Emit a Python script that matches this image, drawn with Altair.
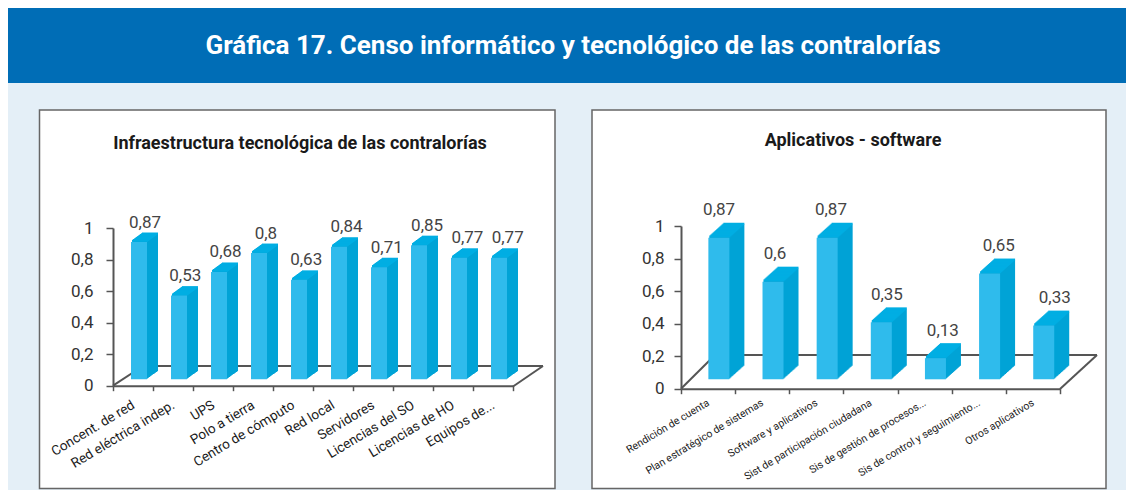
import altair as alt
import pandas as pd

cats_a = ["Concent. de red", "Red eléctrica indep.", "UPS", "Polo a tierra", "Centro de cómputo",
          "Red local", "Servidores", "Licencias del SO", "Licencias de HO", "Equipos de..."]
vals_a = [0.87, 0.53, 0.68, 0.8, 0.63, 0.84, 0.71, 0.85, 0.77, 0.77]
cats_b = ["Rendición de cuenta", "Plan estratégico de sistemas", "Software y aplicativos",
          "Sist de participación ciudadana", "Sis de gestión de procesos...",
          "Sis de control y seguimiento...", "Otros aplicativos"]
vals_b = [0.87, 0.6, 0.87, 0.35, 0.13, 0.65, 0.33]

W, H = 1118, 482
FRONT, SIDE, TOP = "#2fbbec", "#00a3d6", "#00aee3"
AXC = "#555555"
SANS = "Liberation Sans"
NARROW = "Roboto"
one = alt.Data(values=[{"a": 1}])


def deco_rect(x, x2, y, y2, fill, stroke=None, sw=0):
    kw = {"fill": fill}
    if stroke:
        kw.update(stroke=stroke, strokeWidth=sw)
    return alt.Chart(one).mark_rect(**kw).encode(
        x=alt.value(x), x2=alt.value(x2), y=alt.value(y), y2=alt.value(y2))


def seg(x, y, x2, y2, color=AXC, sw=2):
    return alt.Chart(one).mark_rule(color=color, strokeWidth=sw).encode(
        x=alt.value(x), x2=alt.value(x2), y=alt.value(y), y2=alt.value(y2))


def label(txt, x, y, size, color, bold=False, font=NARROW):
    return alt.Chart(one).mark_text(text=txt, fontSize=size, color=color, font=font,
                                    fontWeight="bold" if bold else "normal",
                                    align="center", baseline="alphabetic").encode(
        x=alt.value(x), y=alt.value(y))


def panel(cats, vals, xr, yr, barw, bx, by, depx, depy, lab_dx0, lab_slope, lab_dy,
          cat_size, cat_font, y_pad, x_offset, tick_x, cat_pad):
    df = pd.DataFrame({"c": cats, "v": vals})
    df["t"] = [str(v).replace(".", ",") for v in vals]
    xs = alt.Scale(domain=cats, range=xr, paddingInner=0, paddingOuter=0)
    ys = alt.Scale(domain=[0, 1], range=yr)
    X = alt.X("c:N", scale=xs, axis=None, sort=None)
    Y = alt.Y("v:Q", scale=ys, axis=None)
    base = alt.Chart(df)
    xaxis = alt.Axis(title=None, orient="bottom", offset=x_offset, tickBand="extent", labelAngle=-31,
                     labelAlign="right", labelBaseline="middle", labelFontSize=cat_size, labelFont=cat_font,
                     labelColor="#1a1a1a", labelPadding=cat_pad, tickSize=tick_x, tickColor=AXC, tickWidth=1.5,
                     domainColor=AXC, domainWidth=2, labelOverlap=False, labelLimit=300, grid=False, zindex=1)
    yaxis = alt.Axis(title=None, orient="left", offset=-xr[0], values=[0, 0.2, 0.4, 0.6, 0.8, 1],
                     labelExpr="replace(format(datum.value,'~g'),'.',',')", labelFontSize=17, labelFont=NARROW,
                     labelColor="#333333", labelPadding=y_pad, tickSize=7, tickColor=AXC, tickWidth=1.5,
                     domainColor=AXC, domainWidth=2, grid=False, zindex=1)
    axes = base.mark_bar(opacity=0, width=1).encode(
        x=alt.X("c:N", scale=xs, axis=xaxis, sort=None), y=alt.Y("v:Q", scale=ys, axis=yaxis))
    layers = [axes]
    n = int(round(max(depx, depy)))
    for k in range(n, 0, -1):
        ox = bx + depx * k / n
        oy = by - depy * k / n
        layers.append(base.mark_bar(color=SIDE, width=barw, xOffset=ox, yOffset=oy, y2Offset=oy).encode(
            x=X, y=Y, y2=alt.Y2(datum=0)))
        layers.append(base.mark_tick(color=TOP, size=barw, thickness=2, xOffset=ox, yOffset=oy - 0.5, opacity=1).encode(
            x=X, y=Y))
    layers.append(base.mark_bar(color=FRONT, width=barw, xOffset=bx, yOffset=by, y2Offset=by).encode(
        x=X, y=Y, y2=alt.Y2(datum=0)))
    for i in range(len(cats)):
        layers.append(alt.Chart(df.iloc[[i]]).mark_text(
            font=NARROW, fontSize=17, color="#444444", baseline="alphabetic", align="center",
            dx=lab_dx0 + lab_slope * i, dy=lab_dy).encode(x=X, y=Y, text="t:N"))
    return alt.layer(*layers).resolve_axis(x="independent", y="independent")


left_frame = deco_rect(31.5, 547, 102, 480.5, "white", "#666666", 1.5)
right_frame = deco_rect(584, 1098, 102, 480.5, "white", "#666666", 1.5)
banner = deco_rect(0, W, 0, 75, "#006db6")

deco = [
    deco_rect(0, W, 0, H, "#e4eff7"),
    banner,
    label("Gráfica 17. Censo informático y tecnológico de las contralorías", 565, 46, 26, "white", True),
    left_frame, right_frame,
    label("Infraestructura tecnológica de las contralorías", 292, 141, 18, "#1a1a1a", True),
    label("Aplicativos - software", 845, 138, 18, "#1a1a1a", True),
    # floors
    seg(105, 377.7, 135, 358), seg(135, 358, 535, 358), seg(505, 378.5, 535, 358),
    seg(673, 380.7, 707, 347), seg(707, 347, 1089, 347), seg(1052, 381, 1089, 347),
]

pa = panel(cats_a, vals_a, [105, 505], [377.7, 220], 16, 6, -6.5, 11, 8, 12, 0.3, -21,
           13.5, NARROW, 13, 377.7 - H, 5, 13)
pb = panel(cats_b, vals_b, [673, 1052], [380.7, 218], 21, 10.8, -9.4, 15, 13.5, 11, 1.8, -32,
           10.5, NARROW, 10, 380.7 - H, 5, 8)

chart = alt.layer(*deco, pa, pb).resolve_scale(x="independent", y="independent").properties(
    width=W, height=H, padding=0, background="#e4eff7",
    autosize=alt.AutoSizeParams(type="none")).configure_view(stroke=None)

chart.save("out.html", embed_options={"renderer": "svg", "actions": False})
